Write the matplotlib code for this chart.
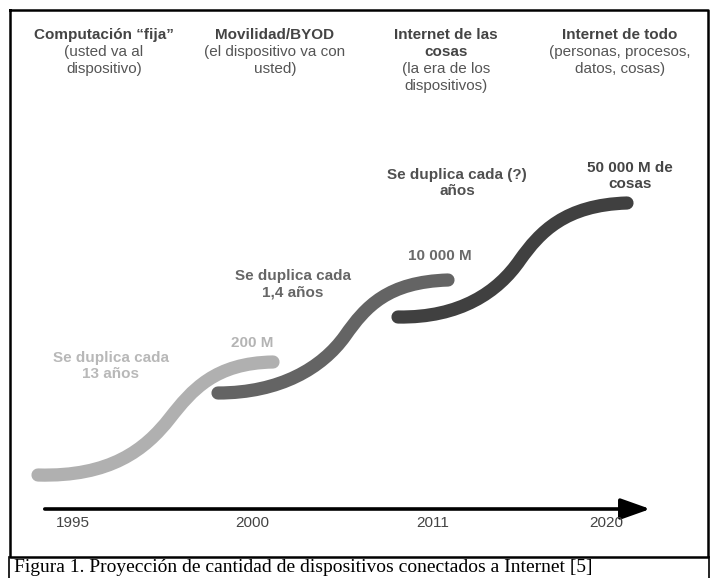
import matplotlib
matplotlib.use('Agg')
import matplotlib.pyplot as plt
from matplotlib.path import Path
from matplotlib.patches import PathPatch

# eras (header columns)
era_x = [104, 275, 446, 620]
era_titles = [['Computación “fija”'], ['Movilidad/BYOD'], ['Internet de las', 'cosas'], ['Internet de todo']]
era_notes = [['(usted va al', 'dispositivo)'],
             ['(el dispositivo va con', 'usted)'],
             ['(la era de los', 'dispositivos)'],
             ['(personas, procesos,', 'datos, cosas)']]

# timeline
years = ['1995', '2000', '2011', '2020']
year_x = [73, 252, 433, 606]

# growth curves: bezier control points (picture pixels)
curve1_x = [38, 110, 145, 170, 192, 215, 273]
curve1_y = [475, 477, 450, 418, 390, 363, 362]
curve2_x = [218, 280, 322, 345, 366, 388, 448]
curve2_y = [393, 393, 368, 336, 306, 282, 280]
curve3_x = [398, 460, 498, 520, 540, 565, 627]
curve3_y = [317, 318, 292, 260, 232, 205, 203]
curve_colors = ['#b0b0b0', '#646464', '#404040']

# labels on the curves
rate_labels = ['Se duplica cada\n13 años', 'Se duplica cada\n1,4 años', 'Se duplica cada (?)\naños']
rate_pos = [(111, 366), (293, 284), (457, 183)]
rate_colors = ['#b8b8b8', '#666666', '#505050']
count_labels = ['200 M', '10 000 M', '50 000 M de\ncosas']
count_pos = [(252, 343), (440, 256), (630, 176)]
count_colors = ['#b4b4b4', '#6a6a6a', '#454545']

caption = 'Figura 1. Proyección de cantidad de dispositivos conectados a Internet [5]'

fig = plt.figure(figsize=(7.15, 5.78), dpi=100)
ax = fig.add_axes([0, 0, 1, 1])
ax.set_xlim(0, 715)
ax.set_ylim(578, 0)
ax.axis('off')

sans = ['Liberation Sans', 'DejaVu Sans']

# frame and caption box
ax.plot([10, 708, 708, 10, 10], [10, 10, 557, 557, 10], color='black', lw=1.8)
ax.plot([9, 9], [557, 580], color='black', lw=1.2)
ax.plot([709, 709], [557, 580], color='black', lw=1.2)
ax.text(14, 572, caption, family=['Liberation Serif', 'DejaVu Serif'], fontsize=14,
        va='baseline', ha='left', color='black')

# headers
for x, titles, notes in zip(era_x, era_titles, era_notes):
    y = 35
    for t in titles:
        ax.text(x, y, t, family=sans, fontsize=11, fontweight='bold', color='#444444',
                ha='center', va='center')
        y += 17
    for n in notes:
        ax.text(x, y, n, family=sans, fontsize=11, color='#555555', ha='center', va='center')
        y += 17

# curves
codes = [Path.MOVETO] + [Path.CURVE4] * 6
for cx, cy, c in zip([curve1_x, curve2_x, curve3_x], [curve1_y, curve2_y, curve3_y], curve_colors):
    patch = PathPatch(Path(list(zip(cx, cy)), codes), fill=False, edgecolor=c, lw=9.5,
                      capstyle='round', joinstyle='round')
    ax.add_patch(patch)

for txt, (x, y), c in zip(rate_labels, rate_pos, rate_colors):
    ax.text(x, y, txt, family=sans, fontsize=11, fontweight='bold', color=c,
            ha='center', va='center', linespacing=1.25)
for txt, (x, y), c in zip(count_labels, count_pos, count_colors):
    ax.text(x, y, txt, family=sans, fontsize=11, fontweight='bold', color=c,
            ha='center', va='center', linespacing=1.25)

# time arrow
ax.annotate('', xy=(653, 509), xytext=(42, 509),
            arrowprops=dict(arrowstyle='-|>,head_length=0.9,head_width=0.32',
                            mutation_scale=20, lw=2.6, color='black'))
for y_lab, x in zip(years, year_x):
    ax.text(x, 523, y_lab, family=sans, fontsize=11, color='#444444', ha='center', va='center')

fig.savefig('out.png', dpi=100)
